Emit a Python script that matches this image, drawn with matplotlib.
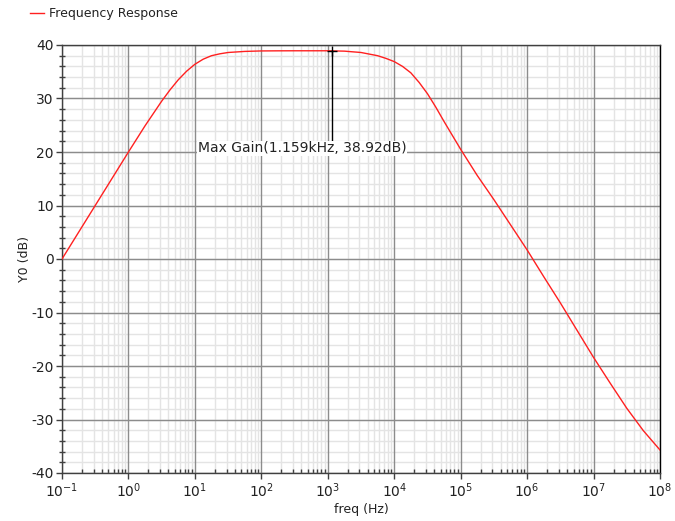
import numpy as np
import matplotlib
matplotlib.use('Agg')
from matplotlib import pyplot as plt
from matplotlib.ticker import LogLocator, MultipleLocator, NullFormatter, NullLocator

plt.rcParams['axes.unicode_minus'] = False

# frequency response (log10 of freq, gain in dB)
freq_exp = [-1.0, -0.75, -0.5, -0.25, 0.0, 0.25, 0.5, 0.625, 0.75, 0.875, 1.0, 1.125,
            1.25, 1.375, 1.5, 1.75, 2.0, 2.25, 2.5, 2.75, 3.0, 3.25, 3.5, 3.75,
            3.875, 4.0, 4.125, 4.25, 4.375, 4.5, 4.625, 4.75, 5.0, 5.25, 5.5, 5.75,
            6.0, 6.25, 6.5, 6.75, 7.0, 7.25, 7.5, 7.75, 8.0]
gain_db = [0.0, 5.0, 10.0, 15.0, 20.0, 24.9, 29.5, 31.6, 33.5, 35.1, 36.4, 37.35,
           38.0, 38.35, 38.6, 38.8, 38.89, 38.91, 38.92, 38.92, 38.92, 38.85, 38.6, 38.0,
           37.5, 36.9, 36.0, 34.8, 33.0, 30.9, 28.4, 25.7, 20.5, 15.6, 11.1, 6.4,
           1.7, -3.3, -8.2, -13.3, -18.4, -23.2, -27.9, -32.1, -35.7]

max_freq = 1159.0
max_gain = 38.92
label_gain = 22.0
label_text = 'Max Gain(1.159kHz, 38.92dB)'

freq = np.power(10.0, freq_exp)
rect = [62 / 675, 1 - 473 / 521, 598 / 675, 428 / 521]

fig = plt.figure(figsize=(6.75, 5.21), dpi=100)

# background axes carries only the light minor grid
bg = fig.add_axes(rect, zorder=0)
bg.set_xscale('log')
bg.set_xlim(1e-1, 1e8)
bg.set_ylim(-40, 40)
bg.xaxis.set_major_locator(NullLocator())
bg.yaxis.set_major_locator(NullLocator())
bg.xaxis.set_minor_locator(LogLocator(base=10, subs=np.arange(2, 10), numticks=20))
bg.yaxis.set_minor_locator(MultipleLocator(2))
bg.xaxis.set_minor_formatter(NullFormatter())
bg.grid(which='minor', color='#e4e4e4', lw=1.0)
bg.tick_params(which='both', length=0, labelbottom=False, labelleft=False)
for s in bg.spines.values():
    s.set_visible(False)

ax = fig.add_axes(rect, zorder=1)
ax.patch.set_alpha(0)
ax.plot(freq, gain_db, color='#ff2020', lw=1.0, zorder=3)

ax.set_xscale('log')
ax.set_xlim(1e-1, 1e8)
ax.set_ylim(-40, 40)
ax.xaxis.set_major_locator(LogLocator(base=10, numticks=20))
ax.xaxis.set_minor_locator(LogLocator(base=10, subs=np.arange(2, 10), numticks=20))
ax.xaxis.set_minor_formatter(NullFormatter())
ax.yaxis.set_major_locator(MultipleLocator(10))
ax.yaxis.set_minor_locator(MultipleLocator(2))

ax.grid(which='major', color='#8c8c8c', lw=1.0)
ax.set_axisbelow(True)

for s in ax.spines.values():
    s.set_color('#404040')
    s.set_linewidth(1.0)
ax.spines['right'].set_color('black')

ax.tick_params(which='major', direction='out', length=4, width=1, colors='#404040',
               labelsize=10, labelcolor='#222222', pad=2)
ax.tick_params(which='minor', direction='inout', length=4, width=1, colors='#404040')
ax.tick_params(axis='x', which='minor', direction='in', length=3)

ax.set_xlabel('freq (Hz)', fontsize=9, color='#222222', labelpad=2)
ax.set_ylabel('Y0 (dB)', fontsize=9, color='#222222', labelpad=0)

# marker for the maximum gain
ax.plot([max_freq, max_freq], [label_gain, max_gain], color='black', lw=1.0, zorder=4)
ax.plot([max_freq], [max_gain], marker='+', color='black', ms=7, mew=1.0, zorder=5)
ax.annotate(label_text, xy=(max_freq, label_gain), xytext=(-134, -7),
            textcoords='offset pixels', fontsize=10, color='#222222',
            ha='left', va='center', zorder=5,
            bbox=dict(facecolor='white', edgecolor='none', pad=0.5))

# legend at top left
fig.lines.append(plt.Line2D([30 / 675, 44 / 675], [1 - 13 / 521, 1 - 13 / 521],
                            color='#ff2020', lw=1.0, transform=fig.transFigure))
fig.text(49 / 675, 1 - 13 / 521, 'Frequency Response', fontsize=9, color='#222222',
         va='center', ha='left')

fig.savefig('out.png', dpi=100, facecolor='white')
